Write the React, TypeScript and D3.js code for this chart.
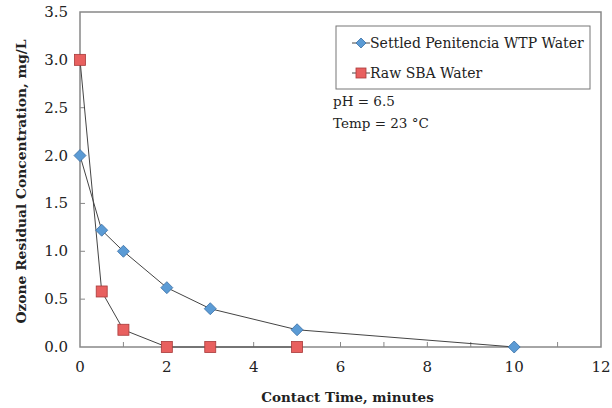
import React, { useRef, useEffect } from 'react';
import * as d3 from 'd3';

const settledTime = [0, 0.5, 1, 2, 3, 5, 10];
const settledConc = [2.0, 1.22, 1.0, 0.62, 0.4, 0.18, 0.0];
const rawTime = [0, 0.5, 1, 2, 3, 5];
const rawConc = [3.0, 0.58, 0.18, 0.0, 0.0, 0.0];
const xTicks = [0, 2, 4, 6, 8, 10, 12];
const yTicks = [0, 0.5, 1, 1.5, 2, 2.5, 3, 3.5];

const App = () => {
  const svgRef = useRef<SVGSVGElement>(null);

  useEffect(() => {
    const width = 612;
    const height = 408;
    const m = { left: 80, right: 11, top: 12, bottom: 61 };
    const font = '"DejaVu Serif", serif';

    const svg = d3.select(svgRef.current);
    svg.selectAll('*').remove();

    const x = d3.scaleLinear().domain([0, 12]).range([m.left, width - m.right]);
    const y = d3.scaleLinear().domain([0, 3.5]).range([height - m.bottom, m.top]);

    // cadre
    svg.append('rect')
      .attr('x', x(0)).attr('y', y(3.5))
      .attr('width', x(12) - x(0)).attr('height', y(0) - y(3.5))
      .attr('fill', 'white').attr('stroke', '#888').attr('stroke-width', 1.5);

    // graduations vers l'intérieur
    svg.append('g').selectAll('line')
      .data(d3.range(1, 12))
      .enter().append('line')
      .attr('x1', d => x(d)).attr('x2', d => x(d))
      .attr('y1', y(0)).attr('y2', y(0) - 5)
      .attr('stroke', '#888');
    svg.append('g').selectAll('line')
      .data(yTicks.slice(1, -1))
      .enter().append('line')
      .attr('x1', x(0)).attr('x2', x(0) + 5)
      .attr('y1', d => y(d)).attr('y2', d => y(d))
      .attr('stroke', '#888');

    svg.append('g').selectAll('text')
      .data(xTicks)
      .enter().append('text')
      .attr('x', d => x(d)).attr('y', y(0) + 25)
      .attr('text-anchor', 'middle')
      .attr('font-family', font).attr('font-size', 15).attr('fill', '#222')
      .text(d => d);
    svg.append('g').selectAll('text')
      .data(yTicks)
      .enter().append('text')
      .attr('x', x(0) - 12).attr('y', d => y(d) + 5)
      .attr('text-anchor', 'end')
      .attr('font-family', font).attr('font-size', 15).attr('fill', '#222')
      .text(d => d.toFixed(1));

    // titres des axes
    svg.append('text')
      .attr('x', (x(0) + x(12)) / 2 + 7).attr('y', 402)
      .attr('text-anchor', 'middle')
      .attr('font-family', font).attr('font-size', 13.5).attr('font-weight', 'bold').attr('fill', '#222')
      .text('Contact Time, minutes');
    svg.append('text')
      .attr('transform', `translate(26, ${(y(0) + y(3.5)) / 2 + 2}) rotate(-90)`)
      .attr('text-anchor', 'middle')
      .attr('font-family', font).attr('font-size', 13.8).attr('font-weight', 'bold').attr('fill', '#222')
      .text('Ozone Residual Concentration, mg/L');

    const line = d3.line<[number, number]>()
      .x(d => x(d[0]))
      .y(d => y(d[1]));

    const settled: [number, number][] = settledTime.map((t, i) => [t, settledConc[i]]);
    const raw: [number, number][] = rawTime.map((t, i) => [t, rawConc[i]]);

    svg.append('path').datum(raw)
      .attr('fill', 'none').attr('stroke', '#444').attr('stroke-width', 1)
      .attr('d', line);
    svg.append('path').datum(settled)
      .attr('fill', 'none').attr('stroke', '#444').attr('stroke-width', 1)
      .attr('d', line);

    const diamond = (cx: number, cy: number, r: number) =>
      `M${cx},${cy - r}L${cx + r},${cy}L${cx},${cy + r}L${cx - r},${cy}Z`;

    svg.append('g').selectAll('path')
      .data(settled)
      .enter().append('path')
      .attr('d', d => diamond(x(d[0]), y(d[1]), 6))
      .attr('fill', '#5b9bd5').attr('stroke', '#3a6ea5').attr('stroke-width', 0.8);

    svg.append('g').selectAll('rect')
      .data(raw)
      .enter().append('rect')
      .attr('x', d => x(d[0]) - 5.5).attr('y', d => y(d[1]) - 5.5)
      .attr('width', 11).attr('height', 11)
      .attr('fill', '#e8605f').attr('stroke', '#a83a3a').attr('stroke-width', 0.8);

    // légende
    const lg = svg.append('g');
    lg.append('rect')
      .attr('x', 336).attr('y', 26).attr('width', 254).attr('height', 63)
      .attr('fill', 'white').attr('stroke', '#777').attr('stroke-width', 1);
    lg.append('line').attr('x1', 352).attr('x2', 370).attr('y1', 43).attr('y2', 43).attr('stroke', '#444');
    lg.append('path').attr('d', diamond(361, 43, 5))
      .attr('fill', '#5b9bd5').attr('stroke', '#3a6ea5').attr('stroke-width', 0.8);
    lg.append('text').attr('x', 370).attr('y', 48)
      .attr('font-family', font).attr('font-size', 14).attr('fill', '#222')
      .text('Settled Penitencia WTP Water');
    lg.append('line').attr('x1', 352).attr('x2', 370).attr('y1', 73).attr('y2', 73).attr('stroke', '#444');
    lg.append('rect').attr('x', 356).attr('y', 68).attr('width', 10).attr('height', 10)
      .attr('fill', '#e8605f').attr('stroke', '#a83a3a').attr('stroke-width', 0.8);
    lg.append('text').attr('x', 370).attr('y', 78)
      .attr('font-family', font).attr('font-size', 14).attr('fill', '#222')
      .text('Raw SBA Water');

    svg.append('text').attr('x', 333).attr('y', 106)
      .attr('font-family', font).attr('font-size', 13.5).attr('fill', '#222')
      .text('pH = 6.5');
    svg.append('text').attr('x', 333).attr('y', 128)
      .attr('font-family', font).attr('font-size', 13.5).attr('fill', '#222')
      .text('Temp = 23 °C');
  }, []);

  return (
    <svg ref={svgRef} width={612} height={408}
      style={{ position: 'absolute', left: 0, top: 0, background: 'white' }} />
  );
};

export default App;
